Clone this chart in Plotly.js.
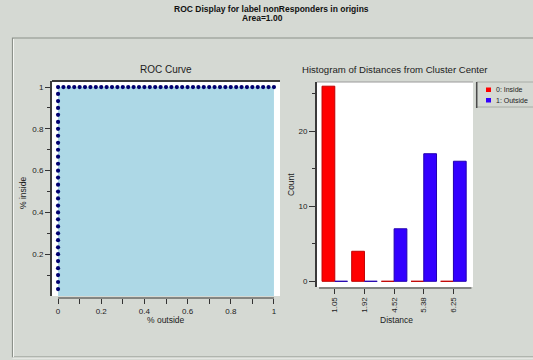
<!DOCTYPE html>
<html>
<head>
<meta charset="utf-8">
<script src="https://cdn.plot.ly/plotly-3.0.1.min.js"></script>
<style>html,body{margin:0;padding:0;background:#d5d9d3;}#chart{width:533px;height:360px;}</style>
</head>
<body>
<div id="chart"></div>
<script>
// ---- data ----
const categories = ['1.05', '1.92', '4.52', '5.38', '6.25'];
const insideCounts = [26, 4, 0, 0, 0];
const outsideCounts = [0, 0, 7, 17, 16];
const seriesNames = ['0: Inside', '1: Outside'];

const rocX = [0,0,0,0,0,0,0,0,0,0,0,0,0,0,0,0,0,0,0,0,0,0,0,0,0,0,0,0,0,0,
  0.025,0.05,0.075,0.1,0.125,0.15,0.175,0.2,0.225,0.25,0.275,0.3,0.325,0.35,0.375,0.4,0.425,0.45,0.475,0.5,
  0.525,0.55,0.575,0.6,0.625,0.65,0.675,0.7,0.725,0.75,0.775,0.8,0.825,0.85,0.875,0.9,0.925,0.95,0.975,1];
const rocY = [0.033,0.067,0.1,0.133,0.167,0.2,0.233,0.267,0.3,0.333,0.367,0.4,0.433,0.467,0.5,
  0.533,0.567,0.6,0.633,0.667,0.7,0.733,0.767,0.8,0.833,0.867,0.9,0.933,0.967,1,
  1,1,1,1,1,1,1,1,1,1,1,1,1,1,1,1,1,1,1,1,1,1,1,1,1,1,1,1,1,1,1,1,1,1,1,1,1,1,1,1];

const rocTickVals = [0, 0.2, 0.4, 0.6, 0.8, 1];
const rocTickText = ['0', '0.2', '0.4', '0.6', '0.8', '1'];
const rocYTickVals = [0.2, 0.4, 0.6, 0.8, 1];
const rocYTickText = ['0.2', '0.4', '0.6', '0.8', '1'];
const rocMinor = [0.1, 0.3, 0.5, 0.7, 0.9];
const histYTickVals = [0, 10, 20];
const histYMinor = [5, 15, 25];

const mainTitle = 'ROC Display for label nonResponders in origins';
const areaText = 'Area=1.00';

// ---- layout helpers (pixel -> paper) ----
const W = 533, H = 360;
const px = x => x / W;
const py = y => 1 - y / H;

const BG = '#d5d9d3';
const TXT = '#1c1c1c';
const FONT = 'Liberation Sans, Arial, sans-serif';
const RED = '#ff0000', BLUE = '#3300ff';

const traces = [
  {
    x: rocX, y: rocY, type: 'scatter', mode: 'markers',
    fill: 'tozeroy', fillcolor: '#add8e6',
    marker: {color: '#000070', size: 4.2},
    xaxis: 'x', yaxis: 'y', showlegend: false, hoverinfo: 'skip'
  },
  {
    x: categories, y: insideCounts, type: 'bar', name: seriesNames[0],
    marker: {color: RED, line: {color: '#c00000', width: 1}},
    xaxis: 'x2', yaxis: 'y2', showlegend: false
  },
  {
    x: categories, y: outsideCounts, type: 'bar', name: seriesNames[1],
    marker: {color: BLUE, line: {color: '#2200b0', width: 1}},
    xaxis: 'x2', yaxis: 'y2', showlegend: false
  }
];

const tickFont = {family: FONT, size: 8, color: TXT};

const layout = {
  width: W, height: H,
  margin: {l: 0, r: 0, t: 0, b: 0, pad: 0},
  paper_bgcolor: BG, plot_bgcolor: '#ffffff',
  font: {family: FONT, color: TXT},
  showlegend: false,
  barmode: 'group', bargap: 0.14, bargroupgap: 0,
  xaxis: {
    domain: [px(52), px(280)], range: [-0.028, 1.028],
    anchor: 'free', position: py(298),
    showline: false, showgrid: false, zeroline: false,
    tickvals: rocTickVals, ticktext: rocTickText,
    ticks: 'outside', ticklen: 5, tickcolor: '#333', tickwidth: 1,
    minor: {tickvals: rocMinor, ticks: 'outside', ticklen: 5, tickcolor: '#333'},
    tickfont: tickFont, fixedrange: true
  },
  yaxis: {
    domain: [py(296), py(81)], range: [0, 1.029],
    anchor: 'x', showline: true, linecolor: '#3a3a3a', linewidth: 2,
    showgrid: false, zeroline: false,
    tickvals: rocYTickVals, ticktext: rocYTickText,
    ticks: 'outside', ticklen: 5, tickcolor: '#333', tickwidth: 1,
    minor: {tickvals: rocMinor, ticks: 'outside', ticklen: 3, tickcolor: '#333'},
    tickfont: tickFont, fixedrange: true
  },
  xaxis2: {
    domain: [px(317), px(473)], type: 'category', range: [-0.6, 4.66],
    anchor: 'free', position: py(288),
    showline: false, showgrid: false, zeroline: false,
    ticks: 'outside', ticklen: 5, tickcolor: '#333', tickwidth: 1,
    tickangle: -90, tickfont: tickFont, fixedrange: true
  },
  yaxis2: {
    domain: [py(287), py(82)], range: [-0.76, 26.56],
    anchor: 'x2', showline: true, linecolor: '#3a3a3a', linewidth: 2,
    showgrid: false, zeroline: false,
    tickvals: histYTickVals,
    ticks: 'outside', ticklen: 6, tickcolor: '#333', tickwidth: 1,
    minor: {tickvals: histYMinor, ticks: 'outside', ticklen: 3, tickcolor: '#333'},
    tickfont: tickFont, fixedrange: true
  },
  shapes: [
    // etched panel border
    {type: 'rect', xref: 'paper', yref: 'paper', x0: px(12.5), x1: px(545), y0: py(357), y1: py(38),
     line: {color: '#8c918a', width: 1.2}, fillcolor: 'rgba(0,0,0,0)', layer: 'below'},
    {type: 'line', xref: 'paper', yref: 'paper', x0: px(12.5), x1: px(545), y0: py(358), y1: py(358),
     line: {color: '#f4f6f2', width: 1.2}},
    {type: 'line', xref: 'paper', yref: 'paper', x0: px(13.5), x1: px(13.5), y0: py(357), y1: py(39),
     line: {color: '#f4f6f2', width: 1}},
    // ROC frame top line
    {type: 'line', xref: 'x domain', yref: 'y domain', x0: 0, x1: 1, y0: 1, y1: 1,
     line: {color: '#3a3a3a', width: 2}},
    // ROC x axis line
    {type: 'line', xref: 'x', yref: 'paper', x0: rocTickVals[0], x1: rocTickVals[rocTickVals.length - 1],
     y0: py(298), y1: py(298), line: {color: '#333', width: 1}},
    // histogram frame top line
    {type: 'line', xref: 'x2 domain', yref: 'y2 domain', x0: 0, x1: 1, y0: 1, y1: 1,
     line: {color: '#9a9a9a', width: 1}},
    // histogram x axis line
    {type: 'line', xref: 'x2 domain', yref: 'paper', x0: 0.013, x1: 0.99,
     y0: py(288), y1: py(288), line: {color: '#333', width: 1}},
    // legend box
    {type: 'rect', xref: 'paper', yref: 'paper', x0: px(476.7), x1: px(540), y0: py(107), y1: py(82),
     line: {color: '#a8aca6', width: 1}, fillcolor: BG},
    {type: 'line', xref: 'paper', yref: 'paper', x0: px(476.7), x1: px(476.7), y0: py(108), y1: py(82),
     line: {color: '#4a4a4a', width: 1.5}},
    {type: 'rect', xref: 'paper', yref: 'paper', x0: px(486), x1: px(491), y0: py(92), y1: py(87.5),
     line: {width: 0}, fillcolor: RED},
    {type: 'rect', xref: 'paper', yref: 'paper', x0: px(486), x1: px(491), y0: py(102.5), y1: py(98),
     line: {width: 0}, fillcolor: BLUE}
  ],
  annotations: [
    {text: '<b>' + mainTitle + '</b>', xref: 'paper', yref: 'paper', x: px(271), y: py(8.5),
     xanchor: 'center', yanchor: 'middle', showarrow: false, font: {family: FONT, size: 8.5, color: '#111'}},
    {text: '<b>' + areaText + '</b>', xref: 'paper', yref: 'paper', x: px(262), y: py(18),
     xanchor: 'center', yanchor: 'middle', showarrow: false, font: {family: FONT, size: 8.5, color: '#111'}},
    {text: 'ROC Curve', xref: 'paper', yref: 'paper', x: px(166), y: py(70),
     xanchor: 'center', yanchor: 'middle', showarrow: false, font: {family: FONT, size: 10, color: TXT}},
    {text: 'Histogram of Distances from Cluster Center', xref: 'paper', yref: 'paper', x: px(395), y: py(70),
     xanchor: 'center', yanchor: 'middle', showarrow: false, font: {family: FONT, size: 9.6, color: TXT}},
    {text: '% outside', xref: 'paper', yref: 'paper', x: px(166), y: py(320),
     xanchor: 'center', yanchor: 'middle', showarrow: false, font: {family: FONT, size: 8.5, color: TXT}},
    {text: '% inside', xref: 'paper', yref: 'paper', x: px(23), y: py(193), textangle: -90,
     xanchor: 'center', yanchor: 'middle', showarrow: false, font: {family: FONT, size: 8.5, color: TXT}},
    {text: 'Count', xref: 'paper', yref: 'paper', x: px(291), y: py(185), textangle: -90,
     xanchor: 'center', yanchor: 'middle', showarrow: false, font: {family: FONT, size: 8.5, color: TXT}},
    {text: 'Distance', xref: 'paper', yref: 'paper', x: px(396), y: py(320),
     xanchor: 'center', yanchor: 'middle', showarrow: false, font: {family: FONT, size: 8.5, color: TXT}},
    {text: seriesNames[0], xref: 'paper', yref: 'paper', x: px(494), y: py(89.8),
     xanchor: 'left', yanchor: 'middle', showarrow: false, font: {family: FONT, size: 7, color: TXT}},
    {text: seriesNames[1], xref: 'paper', yref: 'paper', x: px(494), y: py(100.3),
     xanchor: 'left', yanchor: 'middle', showarrow: false, font: {family: FONT, size: 7, color: TXT}}
  ]
};

Plotly.newPlot('chart', traces, layout, {displayModeBar: false, staticPlot: true});
</script>
</body>
</html>
